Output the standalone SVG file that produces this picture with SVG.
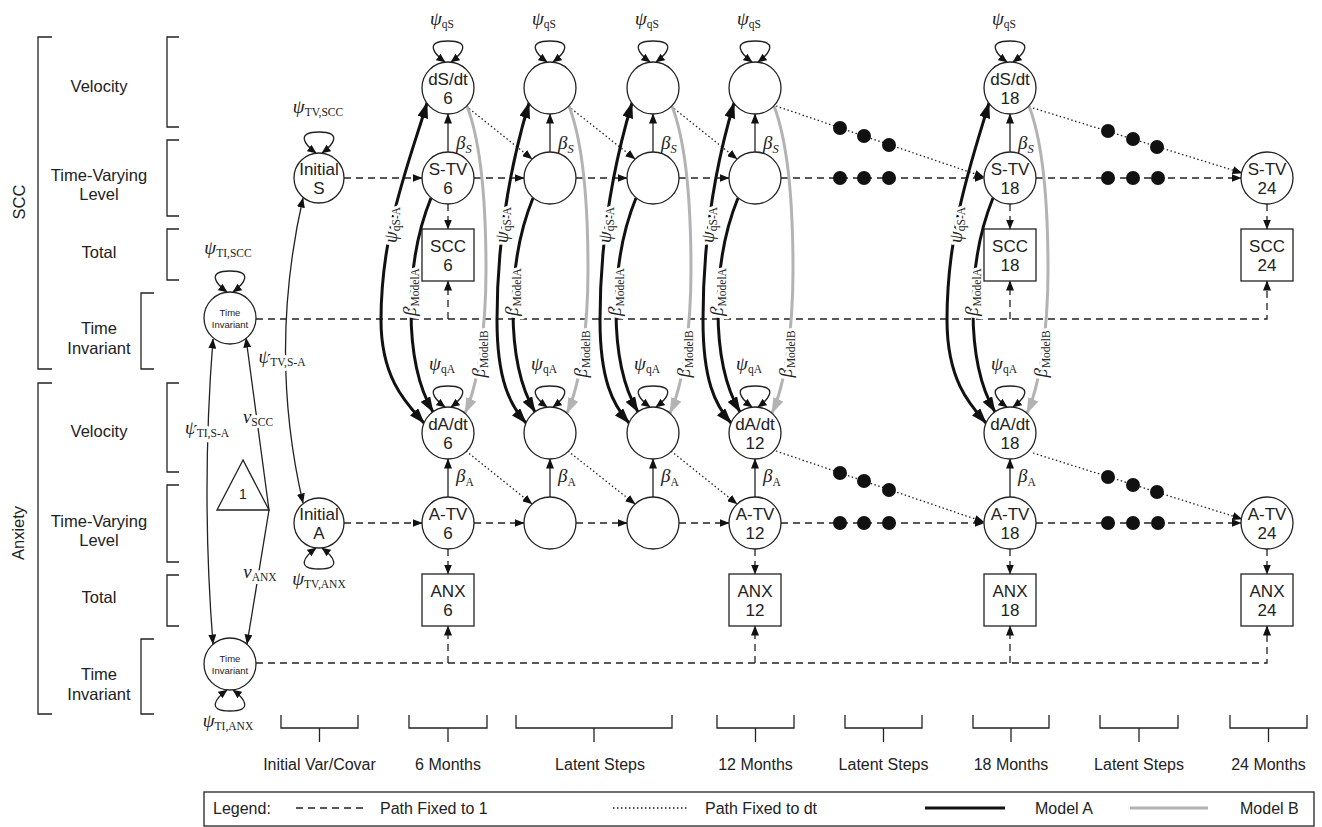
<svg xmlns="http://www.w3.org/2000/svg" width="1322" height="827" viewBox="0 0 1322 827">
<style>
.bg{fill:#fff}
.n{fill:#fff;stroke:#222;stroke-width:1.3}
.t{font-family:"Liberation Sans",Arial,sans-serif;font-size:17px;text-anchor:middle;fill:#222}
.ts{font-family:"Liberation Sans",Arial,sans-serif;font-size:9.5px;text-anchor:middle;fill:#222}
.l{font-family:"Liberation Sans",Arial,sans-serif;font-size:16.5px;text-anchor:middle;fill:#222}
.lg{font-family:"Liberation Sans",Arial,sans-serif;font-size:16px;fill:#222}
.g{font-family:"Liberation Serif","DejaVu Serif",serif;font-style:italic;font-size:19px;fill:#222}
.s{font-style:normal;font-size:11.5px}
.m{text-anchor:middle}
.h{stroke:#fff;stroke-width:6;paint-order:stroke fill;stroke-linejoin:round}
.br{fill:none;stroke:#222;stroke-width:1.3}
.ln{fill:none;stroke:#222;stroke-width:1.3}
.da{stroke-dasharray:7 5}
.dt{stroke-dasharray:1.5 2.5}
.tk{fill:none;stroke:#111;stroke-width:3}
.gr{fill:none;stroke:#b3b3b3;stroke-width:3}
.dot{fill:#111}
</style>
<defs>
<marker id="ah" viewBox="0 0 10 8" refX="9.5" refY="4" markerWidth="10" markerHeight="8" markerUnits="userSpaceOnUse" orient="auto-start-reverse"><path d="M0 0L10 4L0 8z" fill="#111"/></marker>
<marker id="as" viewBox="0 0 9 8" refX="8.5" refY="4" markerWidth="9" markerHeight="8" markerUnits="userSpaceOnUse" orient="auto-start-reverse"><path d="M0 0L9 4L0 8z" fill="#111"/></marker>
<marker id="ab" viewBox="0 0 16 11" refX="15" refY="5.5" markerWidth="16" markerHeight="11" markerUnits="userSpaceOnUse" orient="auto-start-reverse"><path d="M0 0L16 5.5L0 11z" fill="#111"/></marker>
<marker id="ag" viewBox="0 0 16 11" refX="15" refY="5.5" markerWidth="16" markerHeight="11" markerUnits="userSpaceOnUse" orient="auto-start-reverse"><path d="M0 0L16 5.5L0 11z" fill="#b3b3b3"/></marker>
</defs>
<rect class="bg" x="0" y="0" width="1322" height="827"/>

<g id="side-labels">
<path class="br" d="M52 37H38V369H52"/>
<path class="br" d="M52 383H38V714H52"/>
<path class="br" d="M179 37H167V127H179"/>
<path class="br" d="M179 140H167V216H179"/>
<path class="br" d="M179 229H167V280H179"/>
<path class="br" d="M154 293H141V369H154"/>
<path class="br" d="M179 383H167V472H179"/>
<path class="br" d="M179 485H167V562H179"/>
<path class="br" d="M179 575H167V626H179"/>
<path class="br" d="M154 639H141V714H154"/>
<text class="l" transform="translate(25 202) rotate(-90)">SCC</text>
<text class="l" transform="translate(24 533) rotate(-90)">Anxiety</text>
<text class="l" x="99" y="92">Velocity</text>
<text class="l" x="99" y="181">Time-Varying</text>
<text class="l" x="99" y="200">Level</text>
<text class="l" x="99" y="258">Total</text>
<text class="l" x="99" y="334">Time</text>
<text class="l" x="99" y="354">Invariant</text>
<text class="l" x="99" y="437">Velocity</text>
<text class="l" x="99" y="527">Time-Varying</text>
<text class="l" x="99" y="546">Level</text>
<text class="l" x="99" y="603">Total</text>
<text class="l" x="99" y="680">Time</text>
<text class="l" x="99" y="700">Invariant</text>
</g>

<g id="connectors">
<path class="ln da" marker-end="url(#ah)" d="M344 178H422"/>
<path class="ln da" marker-end="url(#ah)" d="M474 178H524"/>
<path class="ln da" marker-end="url(#ah)" d="M576 178H627"/>
<path class="ln da" marker-end="url(#ah)" d="M679 178H729"/>
<path class="ln da" marker-end="url(#ah)" d="M781 178H984"/>
<path class="ln da" marker-end="url(#ah)" d="M1036 178H1241"/>
<path class="ln da" marker-end="url(#ah)" d="M344 523H422"/>
<path class="ln da" marker-end="url(#ah)" d="M474 523H524"/>
<path class="ln da" marker-end="url(#ah)" d="M576 523H627"/>
<path class="ln da" marker-end="url(#ah)" d="M679 523H729"/>
<path class="ln da" marker-end="url(#ah)" d="M781 523H984"/>
<path class="ln da" marker-end="url(#ah)" d="M1036 523H1241"/>
<path class="ln dt" marker-end="url(#ah)" d="M466 106L532 159"/>
<path class="ln dt" marker-end="url(#ah)" d="M568 106L635 159"/>
<path class="ln dt" marker-end="url(#ah)" d="M671 106L737 159"/>
<path class="ln dt" marker-end="url(#ah)" d="M776 106L984 177"/>
<path class="ln dt" marker-end="url(#ah)" d="M1033 108L1242 173"/>
<path class="ln dt" marker-end="url(#ah)" d="M466 451L532 504"/>
<path class="ln dt" marker-end="url(#ah)" d="M568 451L635 504"/>
<path class="ln dt" marker-end="url(#ah)" d="M671 451L737 504"/>
<path class="ln dt" marker-end="url(#ah)" d="M776 451L984 522"/>
<path class="ln dt" marker-end="url(#ah)" d="M1033 453L1242 519"/>
<circle class="dot" cx="840" cy="178" r="7"/><circle class="dot" cx="864" cy="178" r="7"/><circle class="dot" cx="889" cy="178" r="7"/>
<circle class="dot" cx="1108" cy="178" r="7"/><circle class="dot" cx="1133" cy="178" r="7"/><circle class="dot" cx="1158" cy="178" r="7"/>
<circle class="dot" cx="840" cy="523" r="7"/><circle class="dot" cx="864" cy="523" r="7"/><circle class="dot" cx="889" cy="523" r="7"/>
<circle class="dot" cx="1108" cy="523" r="7"/><circle class="dot" cx="1133" cy="523" r="7"/><circle class="dot" cx="1158" cy="523" r="7"/>
<circle class="dot" cx="840" cy="128" r="7"/><circle class="dot" cx="864" cy="136" r="7"/><circle class="dot" cx="889" cy="145" r="7"/>
<circle class="dot" cx="1108" cy="131" r="7"/><circle class="dot" cx="1133" cy="139" r="7"/><circle class="dot" cx="1157" cy="147" r="7"/>
<circle class="dot" cx="840" cy="473" r="7"/><circle class="dot" cx="864" cy="481" r="7"/><circle class="dot" cx="889" cy="490" r="7"/>
<circle class="dot" cx="1108" cy="477" r="7"/><circle class="dot" cx="1133" cy="485" r="7"/><circle class="dot" cx="1157" cy="492" r="7"/>
<path class="ln" marker-end="url(#ah)" d="M448 152V114"/>
<path class="ln" marker-end="url(#ah)" d="M550 152V114"/>
<path class="ln" marker-end="url(#ah)" d="M653 152V114"/>
<path class="ln" marker-end="url(#ah)" d="M755 152V114"/>
<path class="ln" marker-end="url(#ah)" d="M1010 152V114"/>
<path class="ln" marker-end="url(#ah)" d="M448 497V459"/>
<path class="ln" marker-end="url(#ah)" d="M550 497V459"/>
<path class="ln" marker-end="url(#ah)" d="M653 497V459"/>
<path class="ln" marker-end="url(#ah)" d="M755 497V459"/>
<path class="ln" marker-end="url(#ah)" d="M1010 497V459"/>
<path class="ln da" marker-end="url(#ah)" d="M448 204V229"/>
<path class="ln da" marker-end="url(#ah)" d="M1010 204V229"/>
<path class="ln da" marker-end="url(#ah)" d="M1267 204V229"/>
<path class="ln da" marker-end="url(#ah)" d="M448 549V574"/>
<path class="ln da" marker-end="url(#ah)" d="M755 549V574"/>
<path class="ln da" marker-end="url(#ah)" d="M1010 549V574"/>
<path class="ln da" marker-end="url(#ah)" d="M1267 549V574"/>
<path class="ln da" marker-end="url(#ah)" d="M256 319H1267V281"/>
<path class="ln da" marker-end="url(#ah)" d="M448 319V281"/>
<path class="ln da" marker-end="url(#ah)" d="M1010 319V281"/>
<path class="ln da" marker-end="url(#ah)" d="M256 663H1267V626"/>
<path class="ln da" marker-end="url(#ah)" d="M448 663V626"/>
<path class="ln da" marker-end="url(#ah)" d="M755 663V626"/>
<path class="ln da" marker-end="url(#ah)" d="M1010 663V626"/>
<path class="ln" marker-start="url(#ah)" marker-end="url(#ah)" d="M213 339Q201 492 213 644"/>
<path class="ln" marker-end="url(#ah)" d="M269 510L246 338"/>
<path class="ln" marker-end="url(#ah)" d="M269 510L247 644"/>
<path class="ln" marker-start="url(#ah)" marker-end="url(#ah)" d="M303 198Q268 352 303 503"/>
<path class="ln" marker-start="url(#as)" marker-end="url(#as)" d="M445 62C434 54 424 41 448 41C472 41 462 54 451 62"/>
<path class="ln" marker-start="url(#as)" marker-end="url(#as)" d="M547 62C536 54 526 41 550 41C574 41 564 54 553 62"/>
<path class="ln" marker-start="url(#as)" marker-end="url(#as)" d="M650 62C639 54 629 41 653 41C677 41 667 54 656 62"/>
<path class="ln" marker-start="url(#as)" marker-end="url(#as)" d="M752 62C741 54 731 41 755 41C779 41 769 54 758 62"/>
<path class="ln" marker-start="url(#as)" marker-end="url(#as)" d="M1007 62C996 54 986 41 1010 41C1034 41 1024 54 1013 62"/>
<path class="ln" marker-start="url(#as)" marker-end="url(#as)" d="M445 407C434 399 424 386 448 386C472 386 462 399 451 407"/>
<path class="ln" marker-start="url(#as)" marker-end="url(#as)" d="M547 407C536 399 526 386 550 386C574 386 564 399 553 407"/>
<path class="ln" marker-start="url(#as)" marker-end="url(#as)" d="M650 407C639 399 629 386 653 386C677 386 667 399 656 407"/>
<path class="ln" marker-start="url(#as)" marker-end="url(#as)" d="M752 407C741 399 731 386 755 386C779 386 769 399 758 407"/>
<path class="ln" marker-start="url(#as)" marker-end="url(#as)" d="M1007 407C996 399 986 386 1010 386C1034 386 1024 399 1013 407"/>
<path class="ln" marker-start="url(#as)" marker-end="url(#as)" d="M316 153C305 145 295 132 319 132C343 132 333 145 322 153"/>
<path class="ln" marker-start="url(#as)" marker-end="url(#as)" d="M227 292C216 284 206 271 230 271C254 271 244 284 233 292"/>
<path class="ln" marker-start="url(#as)" marker-end="url(#as)" d="M316 548C305 556 295 569 319 569C343 569 333 556 322 548"/>
<path class="ln" marker-start="url(#as)" marker-end="url(#as)" d="M227 690C216 698 206 711 230 711C254 711 244 698 233 690"/>
<path class="tk" marker-start="url(#ab)" marker-end="url(#ab)" d="M427 103C410 160 381 230 381 320C381 380 408 405 424 423"/>
<path class="tk" marker-end="url(#ab)" d="M431 198C420 225 411 260 411 310C411 360 420 390 433 412"/>
<path class="gr" marker-end="url(#ag)" d="M467 106C480 140 486 200 486 270C486 330 478 385 465 413"/>
<path class="tk" marker-start="url(#ab)" marker-end="url(#ab)" d="M529 103C512 160 497 230 497 320C497 380 510 405 526 423"/>
<path class="tk" marker-end="url(#ab)" d="M533 198C522 225 513 260 513 310C513 360 522 390 535 412"/>
<path class="gr" marker-end="url(#ag)" d="M569 106C582 140 588 200 588 270C588 330 580 385 567 413"/>
<path class="tk" marker-start="url(#ab)" marker-end="url(#ab)" d="M632 103C615 160 600 230 600 320C600 380 613 405 629 423"/>
<path class="tk" marker-end="url(#ab)" d="M636 198C625 225 616 260 616 310C616 360 625 390 638 412"/>
<path class="gr" marker-end="url(#ag)" d="M672 106C685 140 691 200 691 270C691 330 683 385 670 413"/>
<path class="tk" marker-start="url(#ab)" marker-end="url(#ab)" d="M734 103C717 160 703 230 703 320C703 380 715 405 731 423"/>
<path class="tk" marker-end="url(#ab)" d="M738 198C727 225 718 260 718 310C718 360 727 390 740 412"/>
<path class="gr" marker-end="url(#ag)" d="M774 106C787 140 793 200 793 270C793 330 785 385 772 413"/>
<path class="tk" marker-start="url(#ab)" marker-end="url(#ab)" d="M989 103C972 160 947 230 947 320C947 380 970 405 986 423"/>
<path class="tk" marker-end="url(#ab)" d="M993 198C982 225 973 260 973 310C973 360 982 390 995 412"/>
<path class="gr" marker-end="url(#ag)" d="M1029 106C1042 140 1048 200 1048 270C1048 330 1040 385 1027 413"/>
</g>

<g id="path-labels">
<text class="g m" x="442" y="25">ψ<tspan class="s" dy="3">qS</tspan></text>
<text class="g m" x="544" y="25">ψ<tspan class="s" dy="3">qS</tspan></text>
<text class="g m" x="647" y="25">ψ<tspan class="s" dy="3">qS</tspan></text>
<text class="g m" x="749" y="25">ψ<tspan class="s" dy="3">qS</tspan></text>
<text class="g m" x="1004" y="25">ψ<tspan class="s" dy="3">qS</tspan></text>
<text class="g m" x="442" y="370">ψ<tspan class="s" dy="3">qA</tspan></text>
<text class="g m" x="544" y="370">ψ<tspan class="s" dy="3">qA</tspan></text>
<text class="g m" x="647" y="370">ψ<tspan class="s" dy="3">qA</tspan></text>
<text class="g m" x="749" y="370">ψ<tspan class="s" dy="3">qA</tspan></text>
<text class="g m" x="1004" y="370">ψ<tspan class="s" dy="3">qA</tspan></text>
<text class="g" x="456" y="149">β<tspan class="s" style="font-style:italic;font-size:12.5px" dy="4">S</tspan></text>
<text class="g" x="558" y="149">β<tspan class="s" style="font-style:italic;font-size:12.5px" dy="4">S</tspan></text>
<text class="g" x="661" y="149">β<tspan class="s" style="font-style:italic;font-size:12.5px" dy="4">S</tspan></text>
<text class="g" x="763" y="149">β<tspan class="s" style="font-style:italic;font-size:12.5px" dy="4">S</tspan></text>
<text class="g" x="1018" y="149">β<tspan class="s" style="font-style:italic;font-size:12.5px" dy="4">S</tspan></text>
<text class="g" x="456" y="482">β<tspan class="s" dy="4">A</tspan></text>
<text class="g" x="558" y="482">β<tspan class="s" dy="4">A</tspan></text>
<text class="g" x="661" y="482">β<tspan class="s" dy="4">A</tspan></text>
<text class="g" x="763" y="482">β<tspan class="s" dy="4">A</tspan></text>
<text class="g" x="1018" y="482">β<tspan class="s" dy="4">A</tspan></text>
<text class="g m h" transform="translate(397 225) rotate(-90)">ψ<tspan class="s" dy="3">qS-A</tspan></text>
<text class="g m h" transform="translate(508 225) rotate(-90)">ψ<tspan class="s" dy="3">qS-A</tspan></text>
<text class="g m h" transform="translate(611 225) rotate(-90)">ψ<tspan class="s" dy="3">qS-A</tspan></text>
<text class="g m h" transform="translate(714 225) rotate(-90)">ψ<tspan class="s" dy="3">qS-A</tspan></text>
<text class="g m h" transform="translate(962 225) rotate(-90)">ψ<tspan class="s" dy="3">qS-A</tspan></text>
<text class="g m h" transform="translate(416 292) rotate(-90)">β<tspan class="s" dy="3">ModelA</tspan></text>
<text class="g m h" transform="translate(518 292) rotate(-90)">β<tspan class="s" dy="3">ModelA</tspan></text>
<text class="g m h" transform="translate(621 292) rotate(-90)">β<tspan class="s" dy="3">ModelA</tspan></text>
<text class="g m h" transform="translate(723 292) rotate(-90)">β<tspan class="s" dy="3">ModelA</tspan></text>
<text class="g m h" transform="translate(978 292) rotate(-90)">β<tspan class="s" dy="3">ModelA</tspan></text>
<text class="g m h" transform="translate(485 354) rotate(-90)">β<tspan class="s" dy="3">ModelB</tspan></text>
<text class="g m h" transform="translate(587 354) rotate(-90)">β<tspan class="s" dy="3">ModelB</tspan></text>
<text class="g m h" transform="translate(690 354) rotate(-90)">β<tspan class="s" dy="3">ModelB</tspan></text>
<text class="g m h" transform="translate(792 354) rotate(-90)">β<tspan class="s" dy="3">ModelB</tspan></text>
<text class="g m h" transform="translate(1047 354) rotate(-90)">β<tspan class="s" dy="3">ModelB</tspan></text>
<text class="g m" x="318" y="113">ψ<tspan class="s" dy="3">TV,SCC</tspan></text>
<text class="g m" x="228" y="254">ψ<tspan class="s" dy="3">TI,SCC</tspan></text>
<text class="g m h" x="282" y="363">ψ<tspan class="s" dy="3">TV,S-A</tspan></text>
<text class="g m h" x="207" y="434">ψ<tspan class="s" dy="3">TI,S-A</tspan></text>
<text class="g m h" x="258" y="423">ν<tspan class="s" dy="3">SCC</tspan></text>
<text class="g m h" x="260" y="578">ν<tspan class="s" dy="3">ANX</tspan></text>
<text class="g m" x="319" y="585">ψ<tspan class="s" dy="3">TV,ANX</tspan></text>
<text class="g m" x="228" y="727">ψ<tspan class="s" dy="3">TI,ANX</tspan></text>
</g>

<g id="node-ti-scc"><circle class="n" cx="230" cy="318" r="26"/><text class="ts" x="230" y="316">Time</text><text class="ts" x="230" y="328">Invariant</text></g>
<g id="node-ti-anx"><circle class="n" cx="230" cy="664" r="26"/><text class="ts" x="230" y="662">Time</text><text class="ts" x="230" y="674">Invariant</text></g>
<g id="node-const"><path class="n" d="M243 460L217 510H269Z"/><text class="t" style="font-size:14px" x="243" y="499">1</text></g>
<g id="node-init-s"><circle class="n" cx="319" cy="178" r="25"/><text class="t" x="319" y="175">Initial</text><text class="t" x="319" y="194">S</text></g>
<g id="node-init-a"><circle class="n" cx="319" cy="523" r="25"/><text class="t" x="319" y="520">Initial</text><text class="t" x="319" y="539">A</text></g>

<g id="node-ds6"><circle class="n" cx="448" cy="88" r="26"/><text class="t" x="448" y="85">dS/dt</text><text class="t" x="448" y="104">6</text></g>
<g id="node-stv6"><circle class="n" cx="448" cy="178" r="26"/><text class="t" x="448" y="175">S-TV</text><text class="t" x="448" y="194">6</text></g>
<g id="node-scc6"><rect class="n" x="422" y="229" width="52" height="52"/><text class="t" x="448" y="252">SCC</text><text class="t" x="448" y="271">6</text></g>
<g id="node-da6"><circle class="n" cx="448" cy="433" r="26"/><text class="t" x="448" y="430">dA/dt</text><text class="t" x="448" y="449">6</text></g>
<g id="node-atv6"><circle class="n" cx="448" cy="523" r="26"/><text class="t" x="448" y="520">A-TV</text><text class="t" x="448" y="539">6</text></g>
<g id="node-anx6"><rect class="n" x="422" y="574" width="52" height="52"/><text class="t" x="448" y="597">ANX</text><text class="t" x="448" y="616">6</text></g>

<g id="node-ds-l1"><circle class="n" cx="550" cy="88" r="26"/></g>
<g id="node-stv-l1"><circle class="n" cx="550" cy="178" r="26"/></g>
<g id="node-da-l1"><circle class="n" cx="550" cy="433" r="26"/></g>
<g id="node-atv-l1"><circle class="n" cx="550" cy="523" r="26"/></g>
<g id="node-ds-l2"><circle class="n" cx="653" cy="88" r="26"/></g>
<g id="node-stv-l2"><circle class="n" cx="653" cy="178" r="26"/></g>
<g id="node-da-l2"><circle class="n" cx="653" cy="433" r="26"/></g>
<g id="node-atv-l2"><circle class="n" cx="653" cy="523" r="26"/></g>

<g id="node-ds12"><circle class="n" cx="755" cy="88" r="26"/></g>
<g id="node-stv12"><circle class="n" cx="755" cy="178" r="26"/></g>
<g id="node-da12"><circle class="n" cx="755" cy="433" r="26"/><text class="t" x="755" y="430">dA/dt</text><text class="t" x="755" y="449">12</text></g>
<g id="node-atv12"><circle class="n" cx="755" cy="523" r="26"/><text class="t" x="755" y="520">A-TV</text><text class="t" x="755" y="539">12</text></g>
<g id="node-anx12"><rect class="n" x="729" y="574" width="52" height="52"/><text class="t" x="755" y="597">ANX</text><text class="t" x="755" y="616">12</text></g>

<g id="node-ds18"><circle class="n" cx="1010" cy="88" r="26"/><text class="t" x="1010" y="85">dS/dt</text><text class="t" x="1010" y="104">18</text></g>
<g id="node-stv18"><circle class="n" cx="1010" cy="178" r="26"/><text class="t" x="1010" y="175">S-TV</text><text class="t" x="1010" y="194">18</text></g>
<g id="node-scc18"><rect class="n" x="984" y="229" width="52" height="52"/><text class="t" x="1010" y="252">SCC</text><text class="t" x="1010" y="271">18</text></g>
<g id="node-da18"><circle class="n" cx="1010" cy="433" r="26"/><text class="t" x="1010" y="430">dA/dt</text><text class="t" x="1010" y="449">18</text></g>
<g id="node-atv18"><circle class="n" cx="1010" cy="523" r="26"/><text class="t" x="1010" y="520">A-TV</text><text class="t" x="1010" y="539">18</text></g>
<g id="node-anx18"><rect class="n" x="984" y="574" width="52" height="52"/><text class="t" x="1010" y="597">ANX</text><text class="t" x="1010" y="616">18</text></g>

<g id="node-stv24"><circle class="n" cx="1267" cy="178" r="26"/><text class="t" x="1267" y="175">S-TV</text><text class="t" x="1267" y="194">24</text></g>
<g id="node-scc24"><rect class="n" x="1241" y="229" width="52" height="52"/><text class="t" x="1267" y="252">SCC</text><text class="t" x="1267" y="271">24</text></g>
<g id="node-atv24"><circle class="n" cx="1267" cy="523" r="26"/><text class="t" x="1267" y="520">A-TV</text><text class="t" x="1267" y="539">24</text></g>
<g id="node-anx24"><rect class="n" x="1241" y="574" width="52" height="52"/><text class="t" x="1267" y="597">ANX</text><text class="t" x="1267" y="616">24</text></g>

<g id="time-axis">
<path class="br" d="M281 715V728H358V715M319.5 728V742"/>
<path class="br" d="M409 715V728H487V715M448 728V742"/>
<path class="br" d="M516 715V728H672V715M594 728V742"/>
<path class="br" d="M717 715V728H794V715M755.5 728V742"/>
<path class="br" d="M845 715V728H922V715M883.5 728V742"/>
<path class="br" d="M973 715V728H1049V715M1011 728V742"/>
<path class="br" d="M1100 715V728H1178V715M1139 728V742"/>
<path class="br" d="M1230 715V728H1307V715M1268.5 728V742"/>
<text class="lg m" x="319.5" y="770">Initial Var/Covar</text>
<text class="lg m" x="448" y="770">6 Months</text>
<text class="lg m" x="600" y="770">Latent Steps</text>
<text class="lg m" x="755.5" y="770">12 Months</text>
<text class="lg m" x="883.5" y="770">Latent Steps</text>
<text class="lg m" x="1011" y="770">18 Months</text>
<text class="lg m" x="1139" y="770">Latent Steps</text>
<text class="lg m" x="1268.5" y="770">24 Months</text>
</g>

<g id="legend">
<rect x="204" y="792" width="1110" height="34" fill="none" stroke="#222" stroke-width="1.3"/>
<text class="lg" x="213" y="814">Legend:</text>
<path class="ln da" d="M296 808H364"/>
<text class="lg" x="380" y="814">Path Fixed to 1</text>
<path class="ln dt" d="M613 808H688"/>
<text class="lg" x="705" y="814">Path Fixed to dt</text>
<path class="tk" d="M925 808H1005"/>
<text class="lg" x="1035" y="814">Model A</text>
<path class="gr" d="M1130 808H1208"/>
<text class="lg" x="1240" y="814">Model B</text>
</g>
</svg>
